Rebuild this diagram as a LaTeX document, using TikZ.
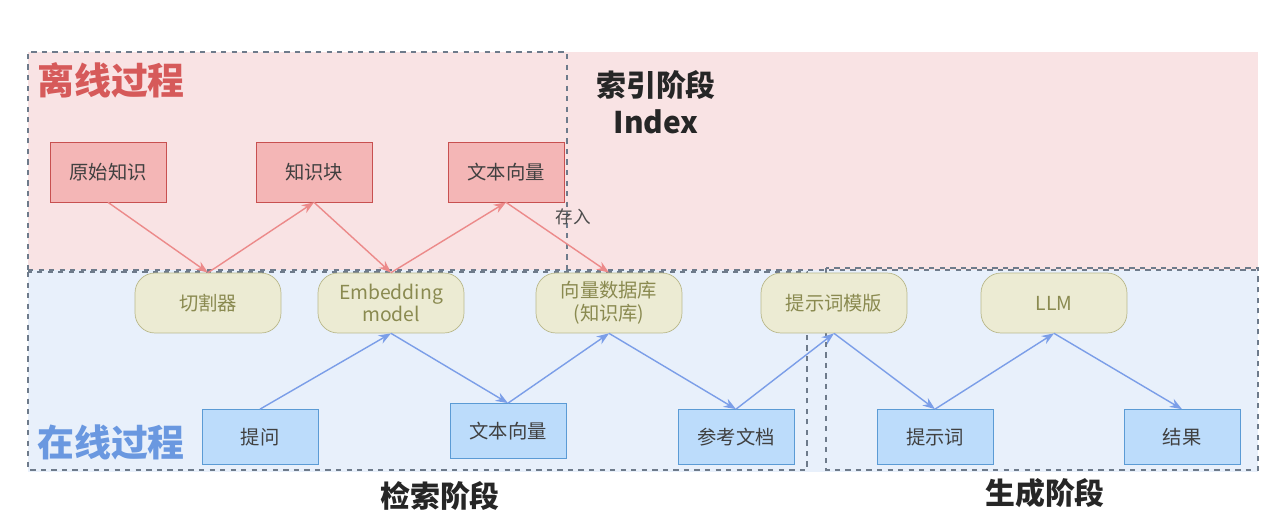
\documentclass[tikz,border=0pt]{standalone}
\usepackage{fontspec}
\setmainfont{Noto Sans CJK SC}
\usetikzlibrary{arrows.meta}
\definecolor{offbg}{HTML}{F9E3E4}
\definecolor{onbg}{HTML}{E8F0FB}
\definecolor{redfill}{HTML}{F4B6B6}
\definecolor{redline}{HTML}{C85050}
\definecolor{redtitle}{HTML}{D65A5A}
\definecolor{redarrow}{HTML}{EC8A8A}
\definecolor{olivefill}{HTML}{ECEBD3}
\definecolor{oliveline}{HTML}{B9B88A}
\definecolor{olivetext}{HTML}{8A8A50}
\definecolor{bluefill}{HTML}{BCDCFB}
\definecolor{blueline}{HTML}{5B9BD5}
\definecolor{bluetitle}{HTML}{6A98E0}
\definecolor{bluearrow}{HTML}{7B9EE8}
\definecolor{dashgrey}{HTML}{6E7B8B}
\tikzset{
  offbox/.style={draw=redline,fill=redfill,minimum width=2.32cm,minimum height=1.2cm,font=\fontsize{11}{12}\selectfont,text=black!75},
  onbox/.style={draw=blueline,fill=bluefill,minimum width=2.32cm,minimum height=1.1cm,font=\fontsize{11}{12}\selectfont,text=black!75},
  toolbox/.style={draw=oliveline,fill=olivefill,rounded corners=0.4cm,minimum width=2.92cm,minimum height=1.2cm,font=\fontsize{11}{13}\selectfont,text=olivetext,align=center,inner sep=1pt},
  offarrow/.style={draw=redarrow,thick,-{Stealth[length=7pt]}},
  onarrow/.style={draw=bluearrow,thick,-{Stealth[length=7pt]}},
  stagebox/.style={draw=dashgrey,dashed,thick},
  title/.style={font=\bfseries\fontsize{17}{21}\selectfont,align=center,text=black!85}
}
\begin{document}
\begin{tikzpicture}[x=0.02cm,y=-0.02cm]
\useasboundingbox (0,0) rectangle (1275,513);
\fill[white] (0,0) rectangle (1275,513);
% backgrounds
\fill[offbg] (28,52) rectangle (1258,270);
\fill[onbg] (28,270) rectangle (1258,472);
\draw[stagebox] (28,270) -- (28,52) -- (567,52) -- (567,270);
\draw[stagebox] (28,270) -- (1258,270);
\draw[stagebox] (28,272) rectangle (807,470);
\draw[stagebox] (826,268) rectangle (1258,470);
% titles
\node[font=\bfseries\fontsize{21}{24}\selectfont,text=redtitle] (offline) at (111,80) {离线过程};
\node[font=\bfseries\fontsize{21}{24}\selectfont,text=bluetitle] (online) at (111,442) {在线过程};
\node[title] (index) at (656,102) {索引阶段\\Index};
\node[title] (retrieve) at (440,496) {检索阶段};
\node[title] (generate) at (1045,493) {生成阶段};
% offline nodes
\node[offbox] (raw) at (108,172) {原始知识};
\node[offbox] (chunk) at (314,172) {知识块};
\node[offbox] (vecA) at (506,172) {文本向量};
% tools
\node[toolbox] (splitter) at (208,303) {切割器};
\node[toolbox] (embed) at (391,303) {Embedding\\model};
\node[toolbox] (vdb) at (609,303) {向量数据库\\(知识库)};
\node[toolbox] (tmpl) at (834,303) {提示词模版};
\node[toolbox] (llm) at (1054,303) {LLM};
% online nodes
\node[onbox] (ask) at (260,437) {提问};
\node[onbox] (vecB) at (508,431) {文本向量};
\node[onbox] (ref) at (736,437) {参考文档};
\node[onbox] (prompt) at (935,437) {提示词};
\node[onbox] (result) at (1182,437) {结果};
% offline flow
\draw[offarrow] (raw.south) -- (splitter.north);
\draw[offarrow] (splitter.north) -- (chunk.south);
\draw[offarrow] (chunk.south) -- (embed.north);
\draw[offarrow] (embed.north) -- (vecA.south);
\draw[offarrow] (vecA.south) -- node[pos=0.42,above right=0pt,font=\fontsize{10}{11}\selectfont,text=black!70] {存入} (vdb.north);
% online flow
\draw[onarrow] (ask.north) -- (embed.south);
\draw[onarrow] (embed.south) -- (vecB.north);
\draw[onarrow] (vecB.north) -- (vdb.south);
\draw[onarrow] (vdb.south) -- (ref.north);
\draw[onarrow] (ref.north) -- (tmpl.south);
\draw[onarrow] (tmpl.south) -- (prompt.north);
\draw[onarrow] (prompt.north) -- (llm.south);
\draw[onarrow] (llm.south) -- (result.north);
\end{tikzpicture}
\end{document}
